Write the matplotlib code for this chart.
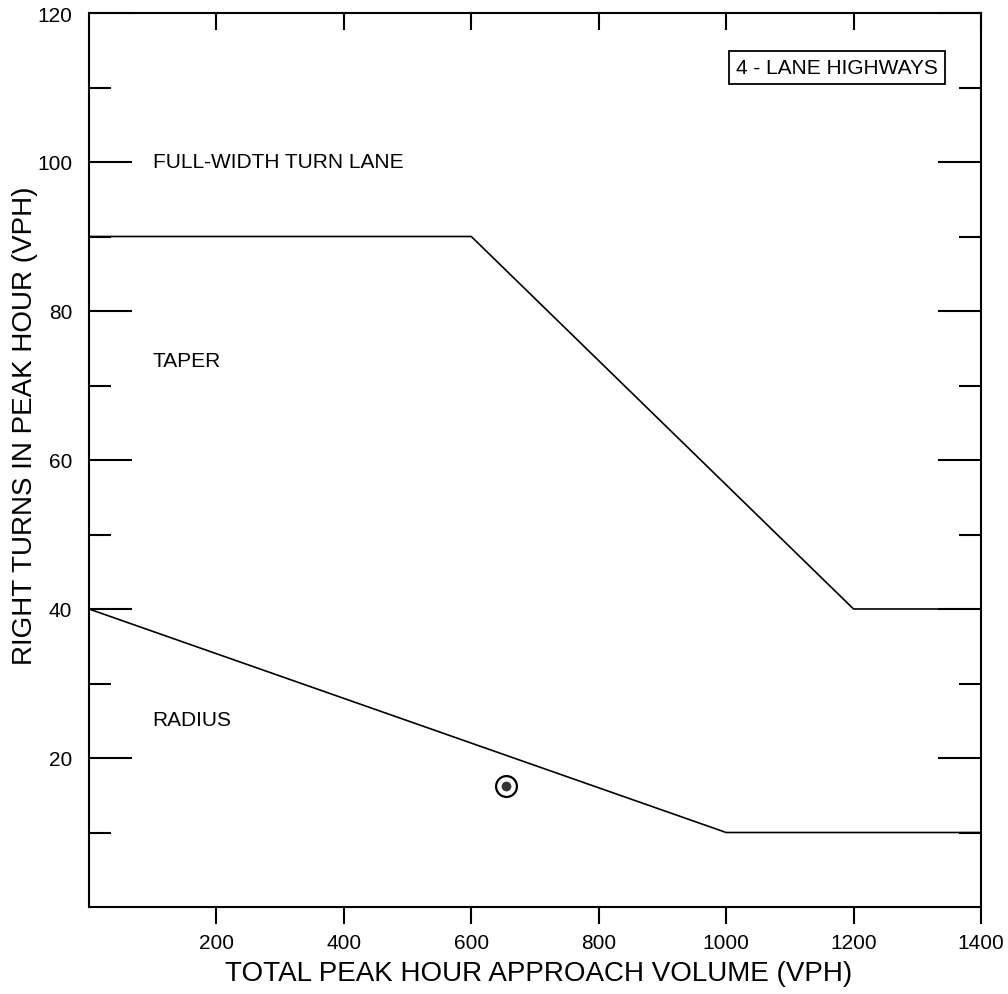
import numpy as np
import matplotlib.pyplot as plt
from matplotlib.ticker import FixedLocator

plt.rcParams['font.family'] = ['Liberation Sans', 'DejaVu Sans']

# Boundary between taper and full-width turn lane
upper_x = [0, 600, 1200, 1400]
upper_y = [90, 90, 40, 40]

# Boundary between radius and taper
lower_x = [0, 1000, 1400]
lower_y = [40, 10, 10]

# Observed point
point_x = [655]
point_y = [16.2]

x_ticks = [200, 400, 600, 800, 1000, 1200, 1400]
y_ticks = [20, 40, 60, 80, 100, 120]
y_minor = [10, 30, 50, 70, 90, 110]

fig = plt.figure(figsize=(10.08, 9.95), dpi=100, facecolor='white')
ax = fig.add_axes([89 / 1008, 1 - 908 / 995, 892 / 1008, 894 / 995])

ax.plot(upper_x, upper_y, color='black', linewidth=1.2)
ax.plot(lower_x, lower_y, color='black', linewidth=1.2)
ax.plot(point_x, point_y, 'o', markersize=15, markerfacecolor='none',
        markeredgecolor='black', markeredgewidth=1.6)
ax.plot(point_x, point_y, 'o', markersize=6, color='#333333')

ax.set_xlim(0, 1400)
ax.set_ylim(0, 120)
ax.set_xticks(x_ticks)
ax.set_yticks(y_ticks)
ax.yaxis.set_minor_locator(FixedLocator(y_minor))

ax.tick_params(axis='x', which='major', length=0, labelsize=15, pad=19)
ax.tick_params(axis='y', which='major', left=True, right=True, direction='in',
               length=31, width=1.5, labelsize=15, pad=12)
ax.tick_params(axis='y', which='minor', left=True, right=True, direction='in',
               length=16, width=1.5)

# bottom ticks point out, top ticks point in
for x in x_ticks:
    ax.plot([x, x], [0, -2.1], color='black', linewidth=1.5, clip_on=False)
    ax.plot([x, x], [120, 117.9], color='black', linewidth=1.5, clip_on=False)

for s in ax.spines.values():
    s.set_linewidth(1.5)

fig.text(539 / 1008, 1 - 974 / 995, 'TOTAL PEAK HOUR APPROACH VOLUME (VPH)',
         fontsize=20, ha='center', va='center')
fig.text(25 / 1008, 1 - 426 / 995, 'RIGHT TURNS IN PEAK HOUR (VPH)',
         fontsize=20, ha='center', va='center', rotation=90)

ax.text(100, 100, 'FULL-WIDTH TURN LANE', fontsize=15, va='center', ha='left')
ax.text(100, 73.3, 'TAPER', fontsize=15, va='center', ha='left')
ax.text(100, 25.2, 'RADIUS', fontsize=15, va='center', ha='left')
ax.text(1174, 112.7, '4 - LANE HIGHWAYS', fontsize=15, va='center', ha='center',
        bbox=dict(boxstyle='square,pad=0.35', facecolor='white', edgecolor='black', linewidth=1.3))

fig.savefig('out.png', dpi=100)
